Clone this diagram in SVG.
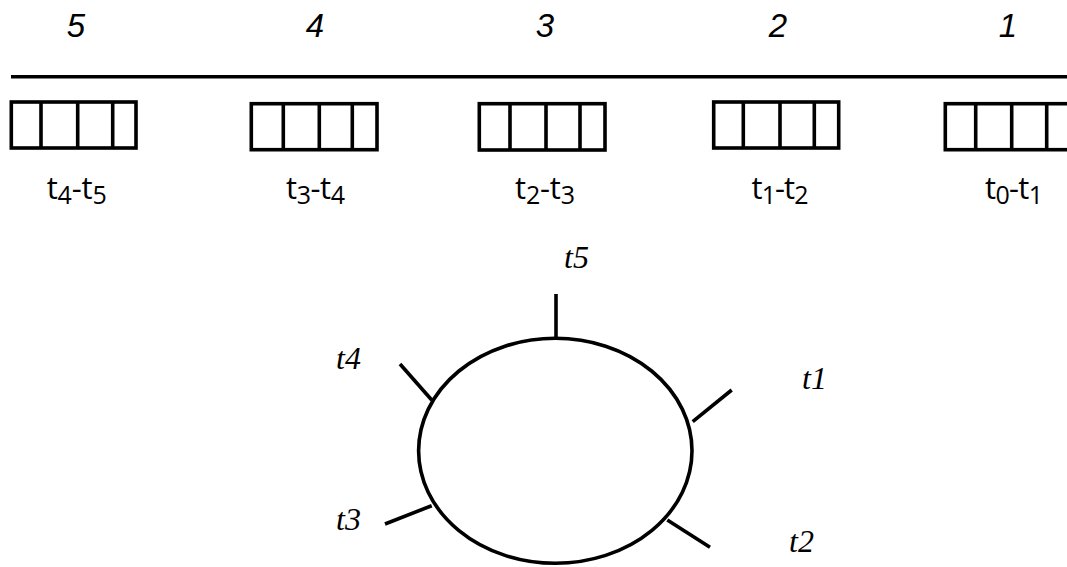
<svg xmlns="http://www.w3.org/2000/svg" width="1067" height="567" viewBox="0 0 1067 567">
<style>
.s{fill:none;stroke:#000;stroke-width:3.6}
.num{font-family:"Liberation Sans",Arial,sans-serif;font-style:italic;font-size:33px;text-anchor:middle}
.lab{font-family:"Open Sans","Liberation Sans",sans-serif;font-size:31px;text-anchor:middle}
.sub{font-size:25px}
.tl{font-family:"Liberation Serif","Times New Roman",serif;font-style:italic;font-size:32px}
</style>
<rect width="1067" height="567" fill="#fff"/>
<g id="axis">
<line class="s" x1="11" y1="76.7" x2="1070" y2="76.7"/>
<text class="num" x="76" y="37">5</text>
<text class="num" x="315" y="37">4</text>
<text class="num" x="545" y="37">3</text>
<text class="num" x="778" y="37">2</text>
<text class="num" x="1008" y="37">1</text>
</g>
<g id="box5">
<rect class="s" x="11.3" y="102" width="124.7" height="46"/>
<path class="s" d="M41 102V148M77.7 102V148M112.7 102V148"/>
<text class="lab" x="76.7" y="199" textLength="60" lengthAdjust="spacing">t<tspan class="sub" dy="5">4</tspan><tspan dy="-5">-t</tspan><tspan class="sub" dy="5">5</tspan></text>
</g>
<g id="box4">
<rect class="s" x="251.3" y="103.7" width="125.7" height="46"/>
<path class="s" d="M283.3 103.7V149.7M319.3 103.7V149.7M352.3 103.7V149.7"/>
<text class="lab" x="315.5" y="199" textLength="59" lengthAdjust="spacing">t<tspan class="sub" dy="5">3</tspan><tspan dy="-5">-t</tspan><tspan class="sub" dy="5">4</tspan></text>
</g>
<g id="box3">
<rect class="s" x="479.3" y="103.7" width="125.7" height="46.3"/>
<path class="s" d="M510 103.7V150M546 103.7V150M580 103.7V150"/>
<text class="lab" x="545" y="199" textLength="60" lengthAdjust="spacing">t<tspan class="sub" dy="5">2</tspan><tspan dy="-5">-t</tspan><tspan class="sub" dy="5">3</tspan></text>
</g>
<g id="box2">
<rect class="s" x="713.7" y="102" width="125" height="46"/>
<path class="s" d="M743.3 102V148M780 102V148M814.3 102V148"/>
<text class="lab" x="780" y="199" textLength="57" lengthAdjust="spacing">t<tspan class="sub" dy="5">1</tspan><tspan dy="-5">-t</tspan><tspan class="sub" dy="5">2</tspan></text>
</g>
<g id="box1">
<rect class="s" x="945.3" y="103.7" width="126" height="46"/>
<path class="s" d="M975.7 103.7V149.7M1011.7 103.7V149.7M1046.7 103.7V149.7"/>
<text class="lab" x="1014" y="199" textLength="58" lengthAdjust="spacing">t<tspan class="sub" dy="5">0</tspan><tspan dy="-5">-t</tspan><tspan class="sub" dy="5">1</tspan></text>
</g>
<g id="cycle">
<ellipse class="s" cx="555.3" cy="450.8" rx="136.7" ry="112.5"/>
</g>
<g id="connectors">
<line class="s" x1="556" y1="294" x2="556" y2="338.5"/>
<line class="s" x1="400" y1="364" x2="431.7" y2="400"/>
<line class="s" x1="731.7" y1="390" x2="692.7" y2="421.7"/>
<line class="s" x1="385" y1="524" x2="431.7" y2="505.7"/>
<line class="s" x1="667.3" y1="520" x2="710" y2="547.3"/>
</g>
<g id="labels">
<text class="tl" x="564" y="268">t5</text>
<text class="tl" x="336" y="369">t4</text>
<text class="tl" x="802" y="389">t1</text>
<text class="tl" x="336" y="530">t3</text>
<text class="tl" x="789" y="552">t2</text>
</g>
</svg>
